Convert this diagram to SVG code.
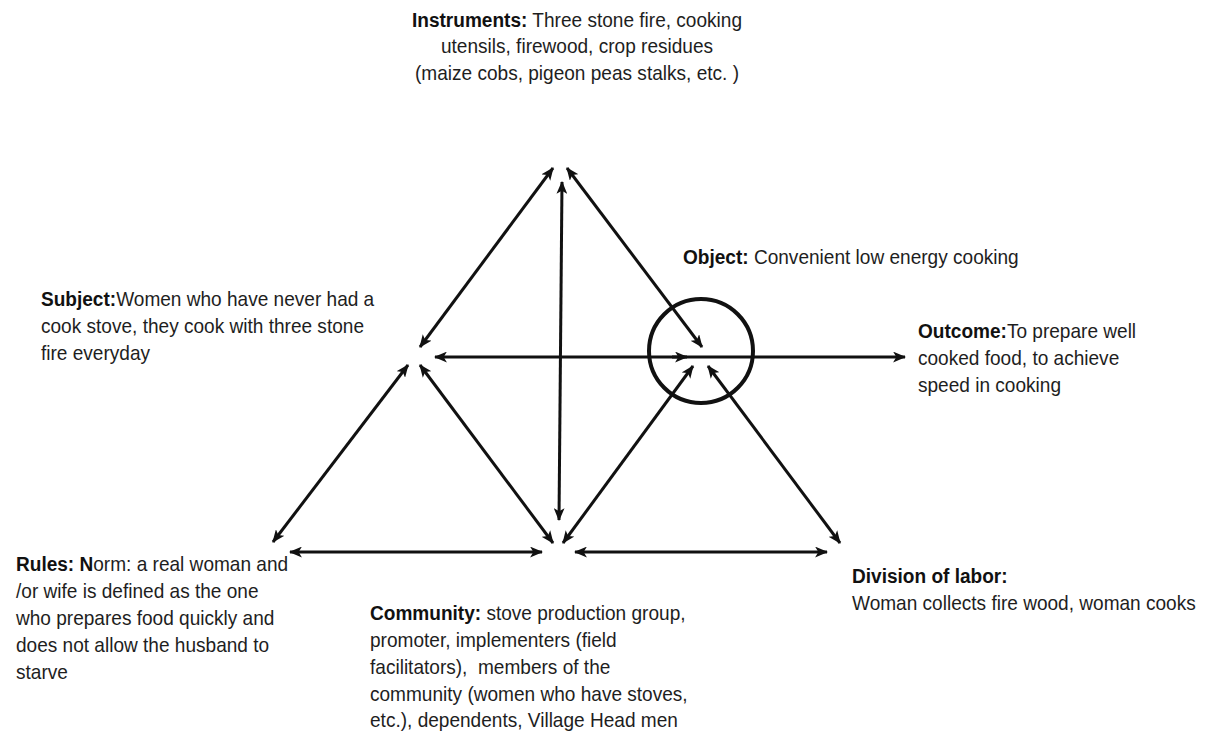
<svg xmlns="http://www.w3.org/2000/svg" width="1209" height="731" viewBox="0 0 1209 731">
  <style>
    text { font-family: "Liberation Sans", Arial, sans-serif; font-size: 20.5px; fill: #1e1e1e; }
    .b { font-weight: bold; fill: #111; }
    .link { stroke: #111; stroke-width: 3; fill: none; }
  </style>
  <defs>
    <marker id="ah" viewBox="0 0 12 10" refX="11" refY="5" markerWidth="13" markerHeight="11" markerUnits="userSpaceOnUse" orient="auto-start-reverse">
      <path d="M0,0 L12,5 L0,10 L3,5 z" fill="#111"/>
    </marker>
  </defs>
  <rect width="1209" height="731" fill="#fff"/>

  <!-- connectors -->
  <g id="connectors">
    <line class="link" x1="420" y1="347" x2="553" y2="168" marker-start="url(#ah)" marker-end="url(#ah)"/>
    <line class="link" x1="567" y1="168" x2="702" y2="347" marker-start="url(#ah)" marker-end="url(#ah)"/>
    <line class="link" x1="562" y1="182" x2="559" y2="520" marker-start="url(#ah)" marker-end="url(#ah)"/>
    <line class="link" x1="435" y1="357" x2="905" y2="357" marker-start="url(#ah)" marker-end="url(#ah)"/>
    <line class="link" x1="672" y1="357" x2="687" y2="357" marker-end="url(#ah)"/>
    <line class="link" x1="408" y1="365" x2="273" y2="542" marker-start="url(#ah)" marker-end="url(#ah)"/>
    <line class="link" x1="420" y1="365" x2="553" y2="543" marker-start="url(#ah)" marker-end="url(#ah)"/>
    <line class="link" x1="563" y1="543" x2="693" y2="366" marker-start="url(#ah)" marker-end="url(#ah)"/>
    <line class="link" x1="708" y1="366" x2="840" y2="543" marker-start="url(#ah)" marker-end="url(#ah)"/>
    <line class="link" x1="290" y1="552" x2="542" y2="552" marker-start="url(#ah)" marker-end="url(#ah)"/>
    <line class="link" x1="575" y1="552" x2="827" y2="552" marker-start="url(#ah)" marker-end="url(#ah)"/>
  </g>

  <!-- object node: circle plus caption -->
  <g id="object">
    <circle cx="701" cy="351" r="52" fill="none" stroke="#111" stroke-width="4"/>
    <g transform="matrix(0.93 0 0 1 47.81 0)">
      <text x="683" y="264"><tspan class="b">Object:</tspan> Convenient low energy cooking</text>
    </g>
  </g>

  <!-- captions use a slightly condensed face: scaled 0.93 horizontally about their anchor -->
  <g id="instruments" transform="matrix(0.93 0 0 1 40.39 0)">
    <text x="577" y="27" text-anchor="middle"><tspan class="b">Instruments:</tspan> Three stone fire, cooking</text>
    <text x="577" y="53" text-anchor="middle">utensils, firewood, crop residues</text>
    <text x="577" y="80" text-anchor="middle">(maize cobs, pigeon peas stalks, etc. )</text>
  </g>

  <g id="subject" transform="matrix(0.93 0 0 1 2.87 0)">
    <text x="41" y="306"><tspan class="b">Subject:</tspan>Women who have never had a</text>
    <text x="41" y="333">cook stove, they cook with three stone</text>
    <text x="41" y="360">fire everyday</text>
  </g>

  <g id="outcome" transform="matrix(0.93 0 0 1 64.26 0)">
    <text x="918" y="338"><tspan class="b">Outcome:</tspan>To prepare well</text>
    <text x="918" y="365">cooked food, to achieve</text>
    <text x="918" y="392">speed in cooking</text>
  </g>

  <g id="rules" transform="matrix(0.93 0 0 1 1.12 0)">
    <text x="16" y="571"><tspan class="b">Rules: N</tspan>orm: a real woman and</text>
    <text x="16" y="598">/or wife is defined as the one</text>
    <text x="16" y="625">who prepares food quickly and</text>
    <text x="16" y="652">does not allow the husband to</text>
    <text x="16" y="679">starve</text>
  </g>

  <g id="community" transform="matrix(0.93 0 0 1 25.9 0)">
    <text x="370" y="620"><tspan class="b">Community:</tspan> stove production group,</text>
    <text x="370" y="647">promoter, implementers (field</text>
    <text x="370" y="674">facilitators),&#160; members of the</text>
    <text x="370" y="701">community (women who have stoves,</text>
    <text x="370" y="727">etc.), dependents, Village Head men</text>
  </g>

  <g id="division" transform="matrix(0.93 0 0 1 59.64 0)">
    <text x="852" y="583" class="b">Division of labor:</text>
    <text x="852" y="610">Woman collects fire wood, woman cooks</text>
  </g>
</svg>
